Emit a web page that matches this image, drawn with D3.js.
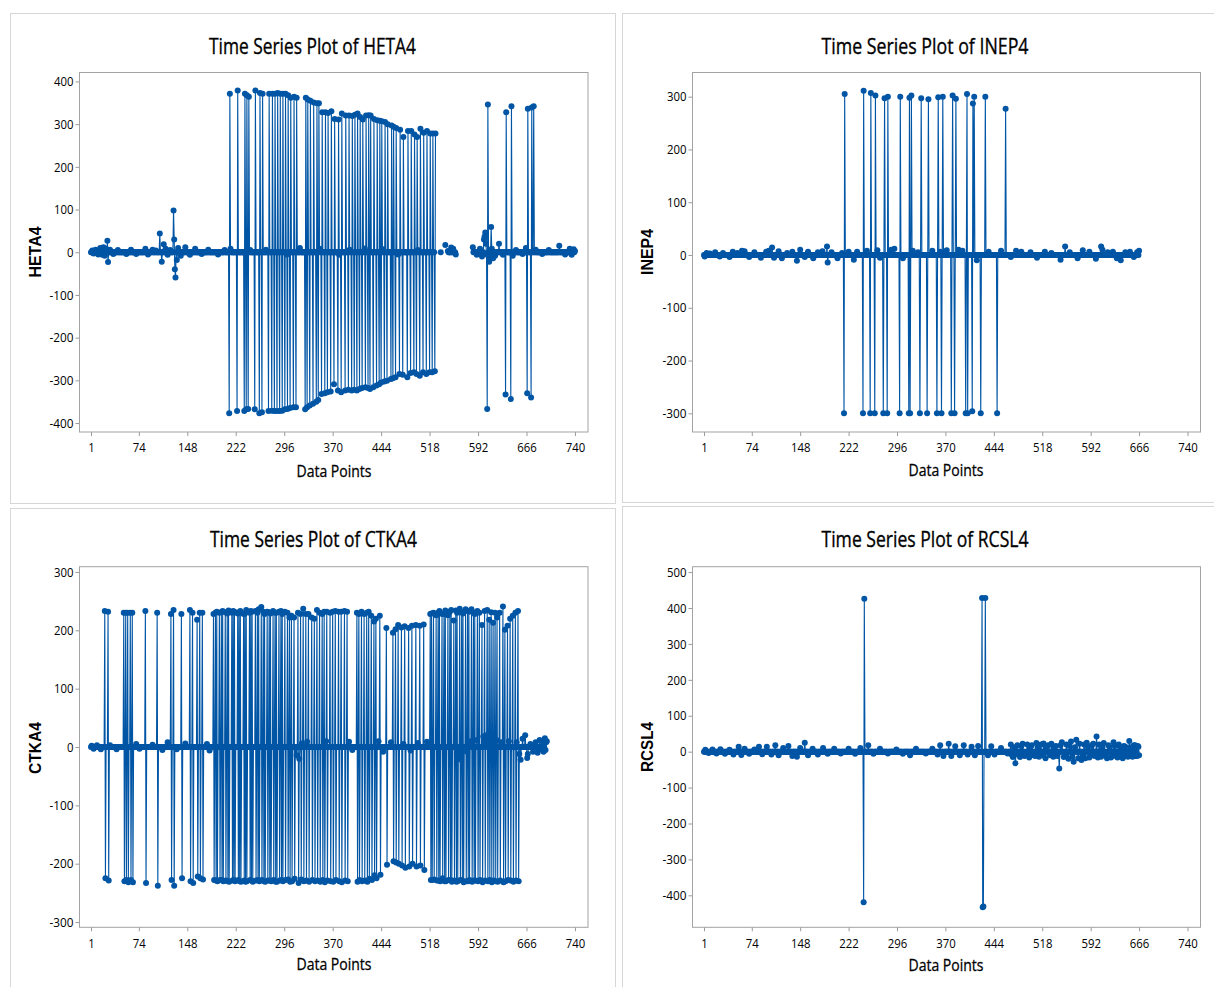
<!DOCTYPE html>
<html>
<head>
<meta charset="utf-8">
<script src="https://cdn.jsdelivr.net/npm/d3@7"></script>
<style>
  body { margin: 0; background: #fff; }
  svg { display: block; }
</style>
</head>
<body>
<main></main>
<script>
// ---------- data ----------
// each list is [data point index, value]; points not listed sit on 0

const xTicks = [1, 74, 148, 222, 296, 370, 444, 518, 592, 666, 740];

// HETA4
const hetaN = 740;
const hetaHighs = [[213,371],[225,379],[236,371],[239,368],[242,364],[252,379],[259,373],[263,371],[273,371],[278,371],[282,371],[286,373],[290,371],[294,371],[298,371],[302,368],[306,362],[311,364],[315,362],[329,362],[332,358],[336,355],[341,351],[346,349],[349,349],[354,328],[359,328],[363,326],[368,330],[373,312],[379,311],[384,325],[390,320],[395,320],[400,319],[404,322],[408,325],[412,317],[416,311],[421,320],[425,321],[428,320],[433,312],[438,309],[442,308],[445,307],[450,305],[454,300],[460,297],[463,294],[467,291],[473,287],[478,270],[485,284],[490,284],[495,276],[499,270],[504,289],[509,280],[514,284],[519,278],[523,278],[527,278],[607,346],[635,328],[643,342],[668,336],[674,339],[677,342]];
const hetaLows = [[212,-377],[224,-372],[235,-372],[238,-368],[241,-367],[251,-368],[258,-377],[262,-375],[272,-372],[277,-371],[281,-372],[285,-372],[289,-372],[293,-371],[297,-368],[301,-367],[305,-365],[310,-363],[314,-363],[328,-368],[331,-363],[335,-359],[340,-355],[345,-350],[348,-346],[353,-332],[358,-330],[362,-328],[367,-326],[372,-309],[378,-324],[383,-328],[389,-324],[394,-322],[399,-324],[403,-322],[407,-324],[411,-320],[415,-318],[420,-316],[424,-318],[427,-320],[432,-316],[437,-312],[441,-309],[444,-305],[449,-303],[453,-301],[459,-297],[462,-295],[466,-293],[472,-285],[477,-287],[484,-293],[489,-283],[494,-281],[498,-285],[503,-289],[508,-281],[513,-285],[518,-281],[522,-281],[526,-279],[606,-367],[634,-333],[642,-344],[667,-330],[673,-340]];
const hetaBumps = [[3,4],[5,-3],[8,6],[12,-5],[15,10],[18,-6],[20,12],[22,-8],[24,8],[26,27],[27,-23],[30,6],[35,-4],[42,5],[55,-4],[62,6],[70,-4],[84,8],[88,-5],[95,6],[100,4],[106,44],[109,-22],[112,19],[115,8],[118,-6],[122,5],[127,98],[128,30],[129,-40],[130,-59],[132,-18],[134,10],[138,-8],[145,12],[152,-6],[160,8],[170,-4],[180,6],[195,-5],[205,5],[214,8],[244,5],[268,6],[300,-5],[320,10],[350,8],[380,-6],[396,6],[419,9],[447,7],[470,-5],[500,5],[535,0],[542,17],[546,3],[551,11],[554,8],[558,-5],[584,12],[586,2],[590,-6],[595,8],[598,-10],[601,30],[602,37],[603,46],[604,20],[605,-5],[609,-22],[611,-12],[612,59],[613,8],[615,-14],[618,-8],[624,20],[630,-6],[645,-8],[650,5],[660,-4],[665,10],[680,6],[690,-4],[700,5],[716,15],[725,-5],[732,8],[735,-6],[738,7],[740,3]];
const hetaGaps = [[528,534],[536,541],[543,545],[559,583]];

// INEP4
const inepN = 666;
const inepHighs = [[216,305],[245,311],[256,307],[263,302],[277,297],[282,300],[301,300],[315,298],[318,302],[333,297],[344,295],[359,299],[366,300],[381,302],[386,296],[403,305],[412,287],[414,300],[431,300],[462,277]];
const inepLows = [[215,-300],[244,-300],[255,-300],[262,-300],[275,-300],[281,-300],[300,-300],[314,-300],[316,-300],[331,-300],[342,-300],[357,-300],[364,-300],[379,-300],[384,-300],[401,-300],[404,-300],[411,-296],[424,-300],[449,-300]];
const inepBumps = [[2,-3],[5,4],[10,3],[18,5],[25,-3],[30,4],[40,-4],[45,6],[52,4],[59,8],[63,7],[70,-4],[78,5],[88,-5],[96,6],[100,8],[105,14],[108,-5],[115,7],[120,-6],[128,4],[136,6],[143,-11],[148,10],[155,-4],[160,6],[168,-6],[175,5],[182,7],[189,16],[190,-14],[196,5],[205,-6],[212,4],[222,6],[230,-9],[235,6],[250,8],[266,9],[270,-5],[287,10],[292,12],[305,-6],[320,8],[328,5],[350,8],[362,6],[372,9],[390,10],[396,8],[418,-10],[436,6],[455,8],[470,-4],[478,8],[486,6],[500,5],[510,-5],[522,6],[532,4],[546,-9],[553,16],[560,5],[572,-6],[580,9],[590,6],[600,-7],[608,16],[610,10],[618,5],[626,6],[632,-6],[638,-10],[645,5],[652,6],[658,-4],[663,5],[666,8]];

// CTKA4
const ctkaN = 697;
const ctkaHighs = [[22,233],[27,232],[51,230],[54,230],[57,230],[61,230],[64,230],[84,233],[102,230],[123,228],[127,235],[139,228],[152,235],[156,230],[163,218],[167,230],[171,230],[188,228],[191,230],[193,232],[197,230],[200,231],[202,233],[206,231],[209,229],[211,234],[216,230],[218,233],[220,232],[225,229],[227,231],[229,233],[234,228],[236,229],[238,235],[243,230],[245,233],[247,232],[252,233],[255,230],[257,236],[261,240],[264,232],[266,228],[270,232],[273,231],[275,229],[279,233],[282,230],[284,230],[288,232],[291,233],[293,228],[297,232],[301,230],[304,222],[307,225],[311,222],[317,230],[321,228],[325,237],[329,228],[333,228],[338,222],[342,220],[346,235],[350,230],[354,228],[357,232],[361,232],[366,230],[370,232],[374,233],[379,232],[383,232],[388,233],[392,232],[407,230],[410,228],[414,232],[418,228],[422,230],[425,232],[429,225],[433,215],[436,220],[442,225],[452,204],[462,196],[466,202],[470,209],[475,205],[480,207],[486,204],[491,208],[497,209],[503,208],[509,210],[519,228],[521,229],[524,230],[528,226],[531,230],[533,233],[537,228],[540,228],[542,234],[546,226],[549,232],[551,235],[555,217],[558,234],[560,230],[564,237],[567,231],[569,229],[573,236],[576,233],[578,232],[582,236],[585,230],[587,228],[591,233],[594,230],[598,209],[602,233],[606,235],[609,218],[612,231],[615,213],[618,230],[621,222],[625,230],[630,241],[633,201],[637,208],[641,220],[645,225],[649,230],[653,233]];
const ctkaLows = [[23,-225],[28,-229],[52,-230],[55,-228],[58,-232],[62,-228],[65,-232],[85,-233],[103,-238],[124,-228],[128,-238],[140,-225],[153,-230],[157,-233],[164,-222],[168,-225],[172,-227],[189,-228],[192,-229],[194,-230],[198,-228],[201,-228],[203,-230],[207,-229],[210,-230],[212,-231],[217,-229],[219,-228],[221,-230],[226,-228],[228,-230],[230,-231],[235,-229],[237,-231],[239,-230],[244,-228],[246,-229],[248,-231],[253,-229],[256,-228],[258,-230],[262,-228],[265,-230],[267,-231],[271,-229],[274,-229],[276,-230],[280,-228],[283,-231],[285,-231],[289,-229],[292,-228],[294,-230],[298,-228],[302,-227],[305,-231],[308,-230],[312,-226],[318,-233],[322,-227],[326,-230],[330,-229],[334,-231],[339,-228],[343,-230],[347,-229],[351,-231],[355,-228],[358,-232],[362,-229],[367,-230],[371,-231],[375,-228],[380,-230],[384,-232],[389,-229],[393,-230],[408,-231],[411,-228],[415,-230],[419,-229],[423,-231],[426,-226],[430,-228],[434,-220],[437,-225],[443,-219],[453,-202],[463,-196],[467,-198],[471,-200],[476,-203],[481,-207],[487,-205],[492,-200],[498,-205],[504,-203],[510,-211],[520,-228],[522,-228],[525,-227],[529,-229],[532,-229],[534,-230],[538,-225],[541,-230],[543,-230],[547,-228],[550,-228],[552,-231],[556,-229],[559,-231],[561,-230],[565,-228],[568,-229],[570,-232],[574,-230],[577,-230],[579,-228],[583,-231],[586,-229],[588,-229],[592,-230],[595,-228],[599,-232],[603,-229],[607,-230],[610,-228],[613,-232],[616,-229],[619,-230],[622,-231],[626,-229],[631,-232],[634,-230],[638,-228],[642,-229],[646,-231],[650,-229],[654,-230]];
const ctkaBumps = [[2,2],[5,-3],[10,3],[16,-4],[30,3],[40,-4],[70,5],[75,-3],[95,4],[110,-5],[118,8],[132,-4],[145,6],[178,5],[182,-6],[315,-14],[319,-20],[323,6],[331,9],[360,10],[395,9],[400,-5],[440,10],[447,-8],[459,8],[478,5],[489,-6],[500,7],[514,9],[563,-19],[566,-22],[575,-8],[581,10],[590,12],[600,18],[604,20],[611,10],[620,12],[627,8],[639,10],[651,8],[655,-12],[657,-22],[660,14],[664,20],[667,-19],[668,-12],[672,5],[676,-8],[680,8],[683,-10],[686,12],[688,-4],[690,10],[692,-8],[694,15],[695,-5],[696,8],[697,10]];

// RCSL4
const rcslN = 666;
const rcslHighs = [[246,426],[426,428],[431,428]];
const rcslLows = [[245,-419],[427,-433],[428,-431]];
const rcslBumps = [[3,5],[8,-4],[14,6],[20,-5],[26,7],[33,-6],[40,5],[46,-8],[54,14],[58,-9],[63,8],[70,-6],[78,6],[85,14],[90,-7],[97,14],[104,-8],[110,18],[115,-10],[122,10],[130,16],[136,-12],[143,-14],[148,10],[155,25],[160,-10],[167,8],[175,-8],[183,10],[190,-6],[200,8],[210,-5],[222,8],[232,-6],[240,10],[252,18],[260,-6],[270,8],[282,-5],[295,6],[305,-6],[316,-10],[325,8],[340,-5],[350,8],[358,-8],[362,18],[367,-12],[375,22],[379,-12],[385,15],[392,-10],[398,18],[404,-8],[410,14],[415,-10],[420,16],[435,-10],[440,15],[445,-8],[455,10],[465,-5],[470,20],[471,-8],[473,-15],[475,12],[477,-32],[480,18],[482,-10],[484,-15],[486,15],[488,22],[491,-12],[493,-8],[495,20],[498,-16],[500,12],[502,18],[505,-10],[507,-12],[509,24],[511,10],[513,-14],[516,20],[518,-10],[520,23],[523,-18],[525,12],[527,18],[530,-10],[532,22],[535,-14],[537,14],[539,16],[541,-12],[544,-47],[546,18],[548,26],[551,-15],[553,-12],[555,20],[558,-20],[560,16],[562,28],[564,-14],[566,-28],[568,12],[570,33],[573,-18],[575,22],[578,-23],[580,-10],[582,20],[584,-18],[586,25],[588,12],[590,-16],[592,-10],[594,18],[596,22],[598,-12],[601,42],[603,-16],[605,20],[608,-14],[610,12],[612,24],[615,-10],[617,-18],[619,18],[621,14],[623,-16],[625,-12],[627,26],[629,16],[631,-12],[633,-16],[635,20],[637,12],[639,-14],[641,-18],[643,16],[645,14],[647,-12],[649,-14],[651,30],[653,12],[655,-10],[656,-14],[658,18],[660,18],[661,-12],[663,-12],[664,16],[665,14],[666,-10]];

// ---------- layout ----------
var width = 1214;
var height = 987;
var blue = "#0055a5";
var uiFont = "'Open Sans', 'Noto Sans', sans-serif";

const panels = [
  { name: "HETA4", n: hetaN, lists: [hetaHighs, hetaLows, hetaBumps], gaps: hetaGaps,
    yDomain: [-421, 421], yTicks: [-400,-300,-200,-100,0,100,200,300,400],
    box: [10, 13, 615, 503], plot: [79.5, 72.5, 588, 432],
    title: [312.5, 54], xTitle: [334, 476.5], yTitle: [35, 252], yLen: 51 },
  { name: "INEP4", n: inepN, lists: [inepHighs, inepLows, inepBumps], gaps: [],
    yDomain: [-335.4, 345.8], yTicks: [-300,-200,-100,0,100,200,300],
    box: [622, 13, 1230, 502], plot: [692.5, 72.5, 1200.5, 432],
    title: [925, 54], xTitle: [946, 476], yTitle: [647, 252], yLen: 46 },
  { name: "CTKA4", n: ctkaN, lists: [ctkaHighs, ctkaLows, ctkaBumps], gaps: [],
    yDomain: [-309, 309], yTicks: [-300,-200,-100,0,100,200,300],
    box: [10, 508, 615, 1000], plot: [79.5, 566.7, 588, 927.3],
    title: [313.5, 546.5], xTitle: [334, 970], yTitle: [35, 748], yLen: 52 },
  { name: "RCSL4", n: rcslN, lists: [rcslHighs, rcslLows, rcslBumps], gaps: [],
    yDomain: [-489, 515], yTicks: [-400,-300,-200,-100,0,100,200,300,400,500],
    box: [622, 506, 1230, 1000], plot: [692.5, 566.7, 1200.5, 927.3],
    title: [925, 546.5], xTitle: [946, 971], yTitle: [647.5, 747], yLen: 50 }
];

function buildSeries(n, lists, gaps) {
  const values = new Array(n).fill(0);
  lists.forEach(list => list.forEach(p => { values[p[0] - 1] = p[1]; }));
  gaps.forEach(g => { for (let i = g[0]; i <= g[1]; i++) values[i - 1] = null; });
  return values.map((v, k) => ({ index: k + 1, value: v }));
}

// digits in the picture are narrow, so squeeze the labels to the measured widths
function labelLength(s) {
  return s.replace("-", "").length * 6.5 + (s.startsWith("-") ? 4.5 : 0);
}

var svg = d3.select("main")
  .append("svg")
  .attr("width", width)
  .attr("height", height);

svg.append("rect")
  .attr("width", width)
  .attr("height", height)
  .attr("fill", "#fff");

panels.forEach(p => {
  const data = buildSeries(p.n, p.lists, p.gaps);
  const g = svg.append("g");

  // outer panel border
  g.append("rect")
    .attr("x", p.box[0] + 0.5)
    .attr("y", p.box[1] + 0.5)
    .attr("width", p.box[2] - p.box[0])
    .attr("height", p.box[3] - p.box[1])
    .attr("fill", "none")
    .attr("stroke", "#d6d6d6");

  const xScale = d3.scaleLinear()
    .domain([-16.6, 759.9])
    .range([p.plot[0], p.plot[2]]);

  const yScale = d3.scaleLinear()
    .domain(p.yDomain)
    .range([p.plot[3], p.plot[1]]);

  // title
  g.append("text")
    .text("Time Series Plot of " + p.name)
    .attr("x", p.title[0])
    .attr("y", p.title[1])
    .attr("text-anchor", "middle")
    .attr("textLength", 207)
    .attr("lengthAdjust", "spacingAndGlyphs")
    .style("font-family", uiFont)
    .style("font-size", "22px")
    .style("fill", "#000")
    .style("stroke", "#000")
    .style("stroke-width", "0.35px");

  // axes
  const xAxis = d3.axisBottom(xScale)
    .tickValues(xTicks)
    .tickSize(4)
    .tickPadding(7)
    .tickFormat(d => String(d));

  const yAxis = d3.axisLeft(yScale)
    .tickValues(p.yTicks)
    .tickSize(4)
    .tickPadding(2)
    .tickFormat(d => String(d));

  const gx = g.append("g")
    .attr("transform", "translate(0," + p.plot[3] + ")")
    .call(xAxis);

  const gy = g.append("g")
    .attr("transform", "translate(" + p.plot[0] + ",0)")
    .call(yAxis);

  [gx, gy].forEach(ax => {
    ax.select(".domain").remove();
    ax.selectAll(".tick line").attr("stroke", "#9a9a9a");
    ax.selectAll(".tick text")
      .style("font-family", uiFont)
      .style("font-size", "13px")
      .attr("fill", "#000")
      .attr("textLength", function () { return labelLength(this.textContent); })
      .attr("lengthAdjust", "spacingAndGlyphs");
  });

  // plot frame
  g.append("rect")
    .attr("x", p.plot[0])
    .attr("y", p.plot[1])
    .attr("width", p.plot[2] - p.plot[0])
    .attr("height", p.plot[3] - p.plot[1])
    .attr("fill", "none")
    .attr("stroke", "#a3a3a3");

  // axis titles
  g.append("text")
    .text("Data Points")
    .attr("x", p.xTitle[0])
    .attr("y", p.xTitle[1])
    .attr("text-anchor", "middle")
    .attr("textLength", 75)
    .attr("lengthAdjust", "spacingAndGlyphs")
    .style("font-family", uiFont)
    .style("font-size", "17px")
    .style("fill", "#000")
    .style("stroke", "#000")
    .style("stroke-width", "0.3px");

  g.append("text")
    .text(p.name)
    .attr("transform", "translate(" + p.yTitle[0] + "," + p.yTitle[1] + ") rotate(-90)")
    .attr("text-anchor", "middle")
    .attr("dy", "0.36em")
    .attr("textLength", p.yLen)
    .attr("lengthAdjust", "spacingAndGlyphs")
    .style("font-family", "'Liberation Sans', Arial, sans-serif")
    .style("font-weight", "bold")
    .style("font-size", "16px")
    .style("fill", "#000");

  // series line and symbols
  const line = d3.line()
    .defined(d => d.value !== null)
    .x(d => xScale(d.index))
    .y(d => yScale(d.value));

  g.append("path")
    .datum(data)
    .attr("d", line)
    .attr("fill", "none")
    .attr("stroke", blue)
    .attr("stroke-width", 1.1)
    .attr("stroke-linejoin", "round");

  g.selectAll("circle")
    .data(data.filter(d => d.value !== null))
    .enter()
    .append("circle")
    .attr("cx", d => xScale(d.index))
    .attr("cy", d => yScale(d.value))
    .attr("r", 3)
    .attr("fill", blue);
});
</script>
</body>
</html>
